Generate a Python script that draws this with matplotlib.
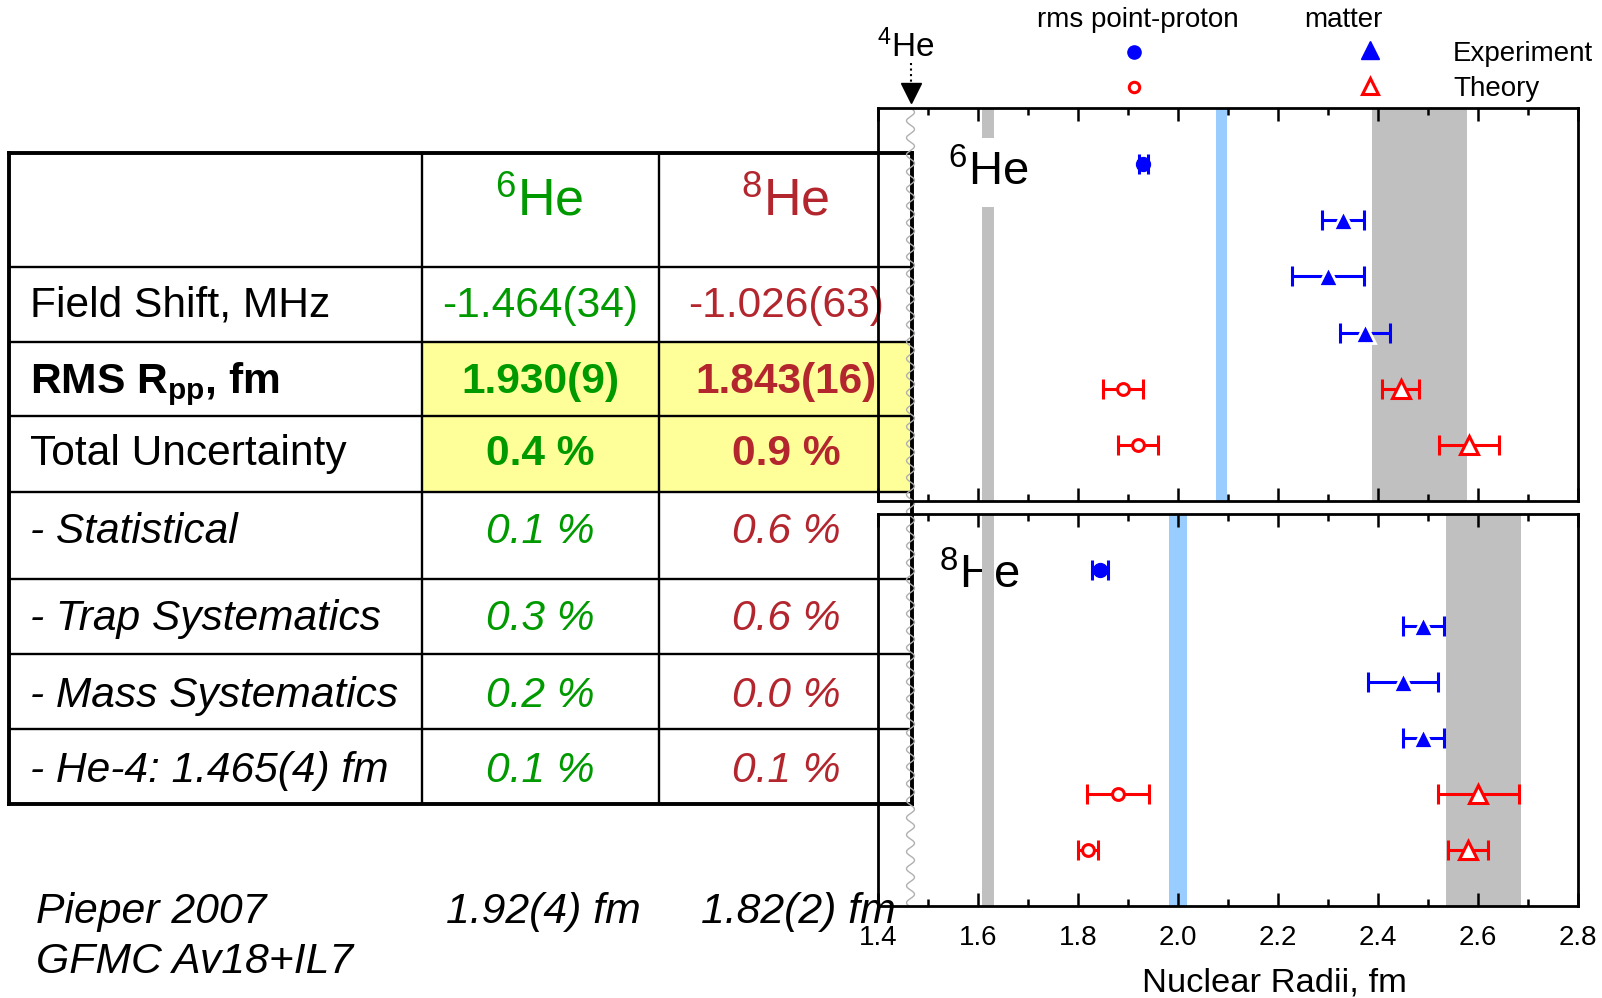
import numpy as np
import matplotlib
matplotlib.use("Agg")
import matplotlib.pyplot as plt
from matplotlib.patches import Rectangle
from matplotlib.ticker import MultipleLocator

plt.rcParams["font.family"] = ["Liberation Sans", "DejaVu Sans"]
plt.rcParams["mathtext.fontset"] = "custom"
plt.rcParams["mathtext.rm"] = "Liberation Sans"
plt.rcParams["mathtext.it"] = "Liberation Sans:italic"
plt.rcParams["mathtext.bf"] = "Liberation Sans:bold"

# ---------------- data ----------------
he4_radius = 1.465

# 6He panel (rows counted from the top)
he6_exp_pp_rows, he6_exp_pp, he6_exp_pp_err = [1], [1.930], [0.009]
he6_exp_m_rows, he6_exp_m, he6_exp_m_err = [2, 3, 4], [2.330, 2.300, 2.373], [0.042, 0.072, 0.050]
he6_th_pp_rows, he6_th_pp, he6_th_pp_err = [5, 6], [1.889, 1.920], [0.040, 0.040]
he6_th_m_rows, he6_th_m, he6_th_m_err = [5, 6], [2.445, 2.582], [0.038, 0.060]

# 8He panel
he8_exp_pp_rows, he8_exp_pp, he8_exp_pp_err = [1], [1.843], [0.016]
he8_exp_m_rows, he8_exp_m, he8_exp_m_err = [2, 3, 4], [2.490, 2.450, 2.490], [0.041, 0.070, 0.041]
he8_th_pp_rows, he8_th_pp, he8_th_pp_err = [5, 6], [1.879, 1.820], [0.062, 0.020]
he8_th_m_rows, he8_th_m, he8_th_m_err = [5, 6], [2.600, 2.580], [0.081, 0.040]

# reference bands (fm)
he4_band = (1.607, 1.632)
he6_blue_band = (2.075, 2.098)
he6_gray_band = (2.388, 2.577)
he8_blue_band = (1.982, 2.018)
he8_gray_band = (2.536, 2.685)

# table contents
table_isotopes = ["$^{6}$He", "$^{8}$He"]
row_labels = ["Field Shift, MHz", r"RMS R$_{\mathbf{pp}}$, fm", "Total Uncertainty",
              "- Statistical", "- Trap Systematics", "- Mass Systematics",
              "- He-4: 1.465(4) fm"]
he6_column = ["-1.464(34)", "1.930(9)", "0.4 %", "0.1 %", "0.3 %", "0.2 %", "0.1 %"]
he8_column = ["-1.026(63)", "1.843(16)", "0.9 %", "0.6 %", "0.6 %", "0.0 %", "0.1 %"]
label_styles = ["normal", "bold", "normal", "italic", "italic", "italic", "italic"]
value_styles = ["normal", "bold", "bold", "italic", "italic", "italic", "italic"]
theory_ref = ["Pieper 2007", "GFMC Av18+IL7"]
theory_values = ["1.92(4) fm", "1.82(2) fm"]

# ---------------- styling ----------------
GREEN = "#009A00"
DRED = "#B3262E"
BLUE = "#0000FF"
RED = "#FF0000"
GRAY = "#C0C0C0"
LBLUE = "#99CCFF"
YELLOW = "#FFFF99"

W, H = 1602, 998
fig = plt.figure(figsize=(W / 100, H / 100), dpi=100)

# pixel canvas for the table, notes and legend
canvas = fig.add_axes([0, 0, 1, 1], zorder=0)
canvas.set_xlim(0, W)
canvas.set_ylim(H, 0)
canvas.axis("off")

left, right = 878, 1578
ax6 = fig.add_axes([left / W, 1 - 501 / H, (right - left) / W, 393 / H], zorder=1)
ax8 = fig.add_axes([left / W, 1 - 906 / H, (right - left) / W, 392 / H], zorder=1)

for ax in (ax6, ax8):
    ax.set_facecolor("none")
    ax.set_xlim(1.4, 2.8)
    ax.set_ylim(7, 0)
    ax.set_yticks([])
    ax.xaxis.set_major_locator(MultipleLocator(0.2))
    ax.xaxis.set_minor_locator(MultipleLocator(0.1))
    ax.tick_params(axis="x", which="both", direction="in", top=True, bottom=True,
                   width=1.8, labelsize=20, pad=14)
    ax.tick_params(axis="x", which="major", length=9.5)
    ax.tick_params(axis="x", which="minor", length=5)
    for s in ax.spines.values():
        s.set_linewidth(2)
ax6.tick_params(axis="x", labelbottom=False)


def draw_panel(ax, label, label_above_band,
               exp_pp, exp_m, th_pp, th_m, blue_band, gray_band):
    band_z = 1 if label_above_band else 2.2
    ax.axvspan(*he4_band, color=GRAY, lw=0, zorder=band_z)
    ax.axvspan(*blue_band, color=LBLUE, lw=0, zorder=1)
    ax.axvspan(*gray_band, color=GRAY, lw=0, zorder=1)
    if label_above_band:
        ax.text(0.1, 0.804, label, transform=ax.transAxes, fontsize=34,
                ha="left", va="baseline", zorder=3,
                bbox=dict(fc="white", ec="none", pad=9))
    else:
        ax.text(0.087, 0.809, label, transform=ax.transAxes, fontsize=34,
                ha="left", va="baseline", zorder=2)

    eb = dict(fmt="none", elinewidth=2.2, capsize=7.5, capthick=2.2, zorder=4)
    for (rows, x, err), color, marker, filled, ms in (
        (exp_pp, BLUE, "o", True, 10),
        (exp_m, BLUE, "^", True, 15),
        (th_pp, RED, "o", False, 8.5),
        (th_m, RED, "^", False, 13),
    ):
        ax.errorbar(x, rows, xerr=err, ecolor=color, **eb)
        if filled:
            ax.plot(x, rows, ls="none", marker=marker, ms=ms, mfc=color,
                    mec="white" if marker == "^" else color,
                    mew=2 if marker == "^" else 1, zorder=5)
        else:
            ax.plot(x, rows, ls="none", marker=marker, ms=ms, mfc="white",
                    mec=color, mew=2.2, zorder=5)


draw_panel(ax6, "$^{6}$He", True,
           (he6_exp_pp_rows, he6_exp_pp, he6_exp_pp_err),
           (he6_exp_m_rows, he6_exp_m, he6_exp_m_err),
           (he6_th_pp_rows, he6_th_pp, he6_th_pp_err),
           (he6_th_m_rows, he6_th_m, he6_th_m_err),
           he6_blue_band, he6_gray_band)
draw_panel(ax8, "$^{8}$He", False,
           (he8_exp_pp_rows, he8_exp_pp, he8_exp_pp_err),
           (he8_exp_m_rows, he8_exp_m, he8_exp_m_err),
           (he8_th_pp_rows, he8_th_pp, he8_th_pp_err),
           (he8_th_m_rows, he8_th_m, he8_th_m_err),
           he8_blue_band, he8_gray_band)

ax8.set_xlabel("Nuclear Radii, fm", fontsize=24.8)
ax8.xaxis.label.set_va("baseline")
ax8.xaxis.set_label_coords(0.566, -(992 - 906) / 392)

# ---------------- table ----------------
row_edges = [153, 267, 342, 416, 492, 579, 654, 729, 804]
col_edges = [9, 422, 659, 912]
col_centers = [540, 786]
header_baseline = 215
row_baselines = [317, 393, 465, 543, 630, 707, 782]
table_fs = 30.6

canvas.add_patch(Rectangle((col_edges[1], row_edges[2]), col_edges[3] - col_edges[1],
                           row_edges[4] - row_edges[2], fc=YELLOW, ec="none", zorder=1))
for i, y in enumerate(row_edges):
    lw = 2.8 if i in (0, len(row_edges) - 1) else 1.7
    canvas.plot([col_edges[0], col_edges[-1]], [y, y], color="black", lw=lw,
                solid_capstyle="projecting", zorder=2)
for i, x in enumerate(col_edges):
    lw = 2.8 if i in (0, len(col_edges) - 1) else 1.7
    canvas.plot([x, x], [row_edges[0], row_edges[-1]], color="black", lw=lw,
                solid_capstyle="projecting", zorder=2)

for iso, xc, color in zip(table_isotopes, col_centers, (GREEN, DRED)):
    canvas.text(xc - 1, header_baseline, iso, fontsize=37.5, color=color,
                ha="center", va="baseline", zorder=3)

for lab, v6, v8, yb, ls, vs in zip(row_labels, he6_column, he8_column,
                                   row_baselines, label_styles, value_styles):
    canvas.text(30, yb, lab, fontsize=table_fs, ha="left", va="baseline",
                fontweight="bold" if ls == "bold" else "normal",
                fontstyle="italic" if ls == "italic" else "normal", zorder=3)
    for v, xc, color in ((v6, col_centers[0], GREEN), (v8, col_centers[1], DRED)):
        canvas.text(xc, yb, v, fontsize=table_fs, color=color, ha="center",
                    va="baseline", fontweight="bold" if vs == "bold" else "normal",
                    fontstyle="italic" if vs == "italic" else "normal", zorder=3)

# theory reference line under the table
notes_fs = 30.8
canvas.text(36, 923, theory_ref[0], fontsize=notes_fs, fontstyle="italic", ha="left", va="baseline")
canvas.text(36, 973, theory_ref[1], fontsize=notes_fs, fontstyle="italic", ha="left", va="baseline")
canvas.text(543, 923, theory_values[0], fontsize=notes_fs, fontstyle="italic", ha="center", va="baseline")
canvas.text(798, 923, theory_values[1], fontsize=notes_fs, fontstyle="italic", ha="center", va="baseline")

# ---------------- 4He marker ----------------
px = ax6.transData.transform((he4_radius, 0))[0]
yy = np.linspace(108, 906, 800)
canvas.plot(px + 4 * np.sin(2 * np.pi * (yy - 108) / 17), yy, color="#B0B0B0",
            lw=1.0, zorder=5)
canvas.plot([px, px], [63, 84], ls=":", color="black", lw=1.5, zorder=5)
canvas.plot([px], [93], marker="v", ms=14, color="black", zorder=5)
canvas.text(px - 5, 57, "$^{4}$He", fontsize=24, ha="center", va="baseline")

# ---------------- legend ----------------
canvas.text(1138, 27, "rms point-proton", fontsize=20, ha="center", va="baseline")
canvas.text(1343, 27, "matter", fontsize=20, ha="center", va="baseline")
canvas.plot([1134], [52], marker="o", ms=9.5, color=BLUE, ls="none")
canvas.plot([1134], [87], marker="o", ms=7.5, mfc="white", mec=RED, mew=2.2, ls="none")
canvas.plot([1370], [50], marker="^", ms=12.5, color=BLUE, ls="none")
canvas.plot([1370], [86], marker="^", ms=11, mfc="white", mec=RED, mew=2.2, ls="none")
canvas.text(1453, 61, "Experiment", fontsize=20, ha="left", va="baseline")
canvas.text(1453, 96, "Theory", fontsize=20, ha="left", va="baseline")

fig.savefig("out.png", dpi=100)
